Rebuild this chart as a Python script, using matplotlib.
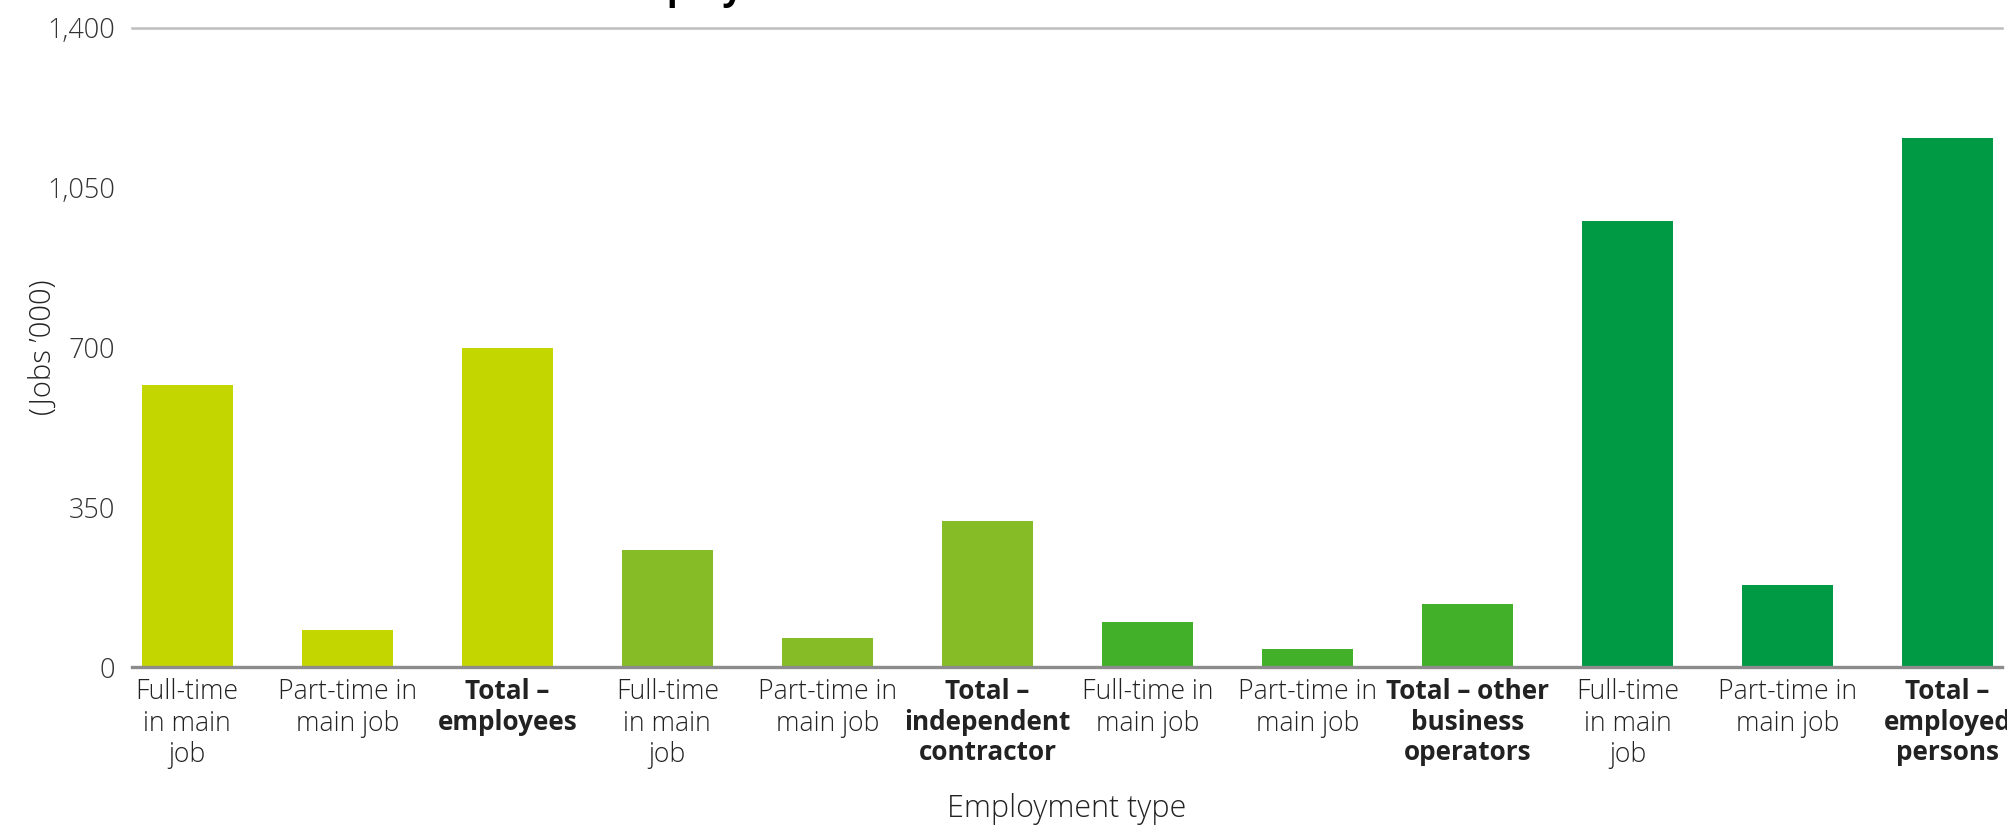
import matplotlib
matplotlib.use("Agg")
import matplotlib.pyplot as plt

# Jobs ('000) by employment type
categories = [
    "Full-time\nin main\njob", "Part-time in\nmain job", "Total –\nemployees",
    "Full-time\nin main\njob", "Part-time in\nmain job", "Total –\nindependent\ncontractor",
    "Full-time in\nmain job", "Part-time in\nmain job", "Total – other\nbusiness\noperators",
    "Full-time\nin main\njob", "Part-time in\nmain job", "Total –\nemployed\npersons",
]
values = [618, 81, 699, 256, 64, 320, 99, 39, 138, 977, 180, 1160]
is_total = [False, False, True] * 4
group_colors = ["#C4D600", "#86BC25", "#43B02A", "#009A44"]
bar_colors = [c for c in group_colors for _ in range(3)]
y_ticks = [0, 350, 700, 1050, 1400]
y_tick_labels = ["0", "350", "700", "1,050", "1,400"]

plt.rcParams["font.family"] = ["Open Sans", "DejaVu Sans"]

W, H = 2008, 825
fig = plt.figure(figsize=(W / 100, H / 100), dpi=100)
ax = fig.add_axes([132 / W, 1 - 667 / H, (2002 - 132) / W, (667 - 28) / H])

x = list(range(len(values)))
ax.bar(x, values, width=0.57, color=bar_colors, zorder=2)

ax.set_xlim(-0.345, 11.34)
ax.set_ylim(0, 1400)

for s in ["top", "right", "left"]:
    ax.spines[s].set_visible(False)
ax.spines["bottom"].set_color("#8C8C8C")
ax.spines["bottom"].set_linewidth(2.4)
ax.spines["bottom"].set_zorder(3)
ax.axhline(1400, color="#BFBFBF", linewidth=1.8, zorder=1, clip_on=False)

ax.set_yticks(y_ticks)
ax.set_yticklabels(y_tick_labels, fontsize=19.5, color="#333333", fontweight="light")
ax.tick_params(axis="y", length=0, pad=12)

ax.set_xticks(x)
ax.set_xticklabels(categories, color="#222222", linespacing=1.17)
for lbl, tot in zip(ax.get_xticklabels(), is_total):
    lbl.set_fontweight("bold" if tot else "light")
    lbl.set_fontsize(18.8 if tot else 19.2)
ax.tick_params(axis="x", length=0, pad=8)

ax.set_ylabel("(Jobs ’000)", fontsize=21, color="#222222", fontweight="light")
ax.yaxis.set_label_coords((43 - 132) / 1870, 0.5)
ax.yaxis.label.set_verticalalignment("center")

fig.text(0.5 * (132 + 2002) / W, 1 - 809 / H, "Employment type", fontsize=22,
         color="#222222", fontweight="light", ha="center", va="center")

# Chart heading sits just above the canvas; only its descenders fall inside
fig.text(611 / W, 1 + 1 / H, "Employment status", fontsize=26, fontweight="bold",
         color="#000000", ha="left", va="baseline")

fig.savefig("out.png", dpi=100)
